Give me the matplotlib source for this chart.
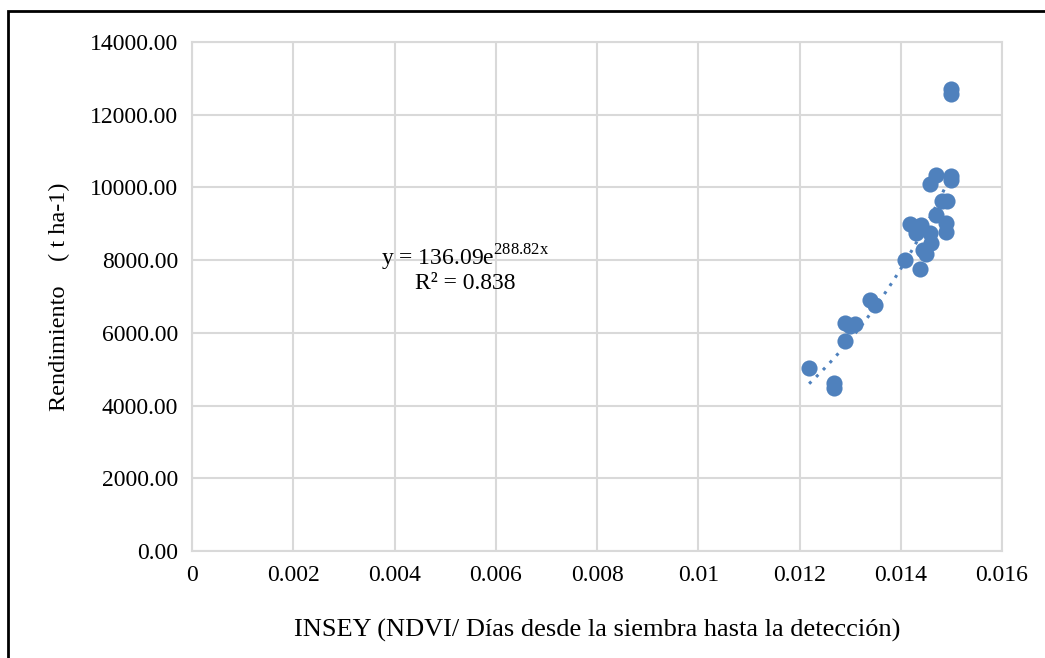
import numpy as np
import matplotlib.pyplot as plt
from matplotlib.patches import Rectangle

plt.rcParams['font.family'] = ['Liberation Serif', 'DejaVu Serif']

# INSEY vs rendimiento
insey = [0.0150, 0.0150, 0.01469, 0.0150, 0.0150, 0.01458, 0.01481, 0.01491,
         0.01469, 0.01418, 0.0144, 0.0149, 0.0149, 0.01431, 0.01458, 0.0146,
         0.01444, 0.0145, 0.01408, 0.01438, 0.01339, 0.01349, 0.0129, 0.0131,
         0.0130, 0.0129, 0.01219, 0.01269, 0.01269, 0.01435]
rendimiento = [12700, 12580, 10340, 10310, 10200, 10090, 9630, 9630,
               9240, 9000, 8970, 9020, 8780, 8750, 8750, 8470,
               8280, 8170, 8000, 7760, 6900, 6770, 6280, 6250,
               6200, 5780, 5040, 4610, 4480, 8900]

# exponential trend shown on the chart
coef_a = 136.09
coef_b = 288.82
r2 = 0.838

fig = plt.figure(figsize=(10.45, 6.58), dpi=100)
ax = fig.add_axes([192/1045, 1-551/658, 810/1045, 509/658])

ax.scatter(insey, rendimiento, s=135, color='#4F81BD', zorder=3, linewidths=0)

xs = np.linspace(min(insey), max(insey), 60)
ax.plot(xs, coef_a*np.exp(coef_b*xs), linestyle=(0, (1, 2.2)), color='#4F81BD',
        lw=2.2, zorder=2)

ax.set_xlim(0, 0.016)
ax.set_ylim(0, 14000)
ax.set_xticks([0, 0.002, 0.004, 0.006, 0.008, 0.01, 0.012, 0.014, 0.016])
ax.set_xticklabels(['0', '0.002', '0.004', '0.006', '0.008', '0.01', '0.012', '0.014', '0.016'])
ax.set_yticks(range(0, 14001, 2000))
ax.set_yticklabels(['%.2f' % v for v in range(0, 14001, 2000)])
ax.tick_params(labelsize=17, length=0, pad=10)
ax.grid(color='#d9d9d9', lw=1.5)
ax.set_axisbelow(True)
for s in ax.spines.values():
    s.set_color('#d9d9d9')
    s.set_linewidth(1.5)

ax.set_xlabel('INSEY (NDVI/ Días desde la siembra hasta la detección)', fontsize=19, labelpad=24)
ax.set_ylabel('Rendimiento    ( t ha-1)', fontsize=17.5, labelpad=14)

ax.text(0.0054, 8060, r'y = 136.09e$^{\mathregular{288.82x}}$', fontsize=17, ha='center', va='center')
ax.text(0.0054, 7370, 'R² = %.3f' % r2, fontsize=17, ha='center', va='center')

fig.patches.append(Rectangle((8/1045, -0.2), 1.2, 1.2 - 11/658, transform=fig.transFigure,
                             fill=False, lw=2, edgecolor='black'))

fig.savefig('out.png', dpi=100)
